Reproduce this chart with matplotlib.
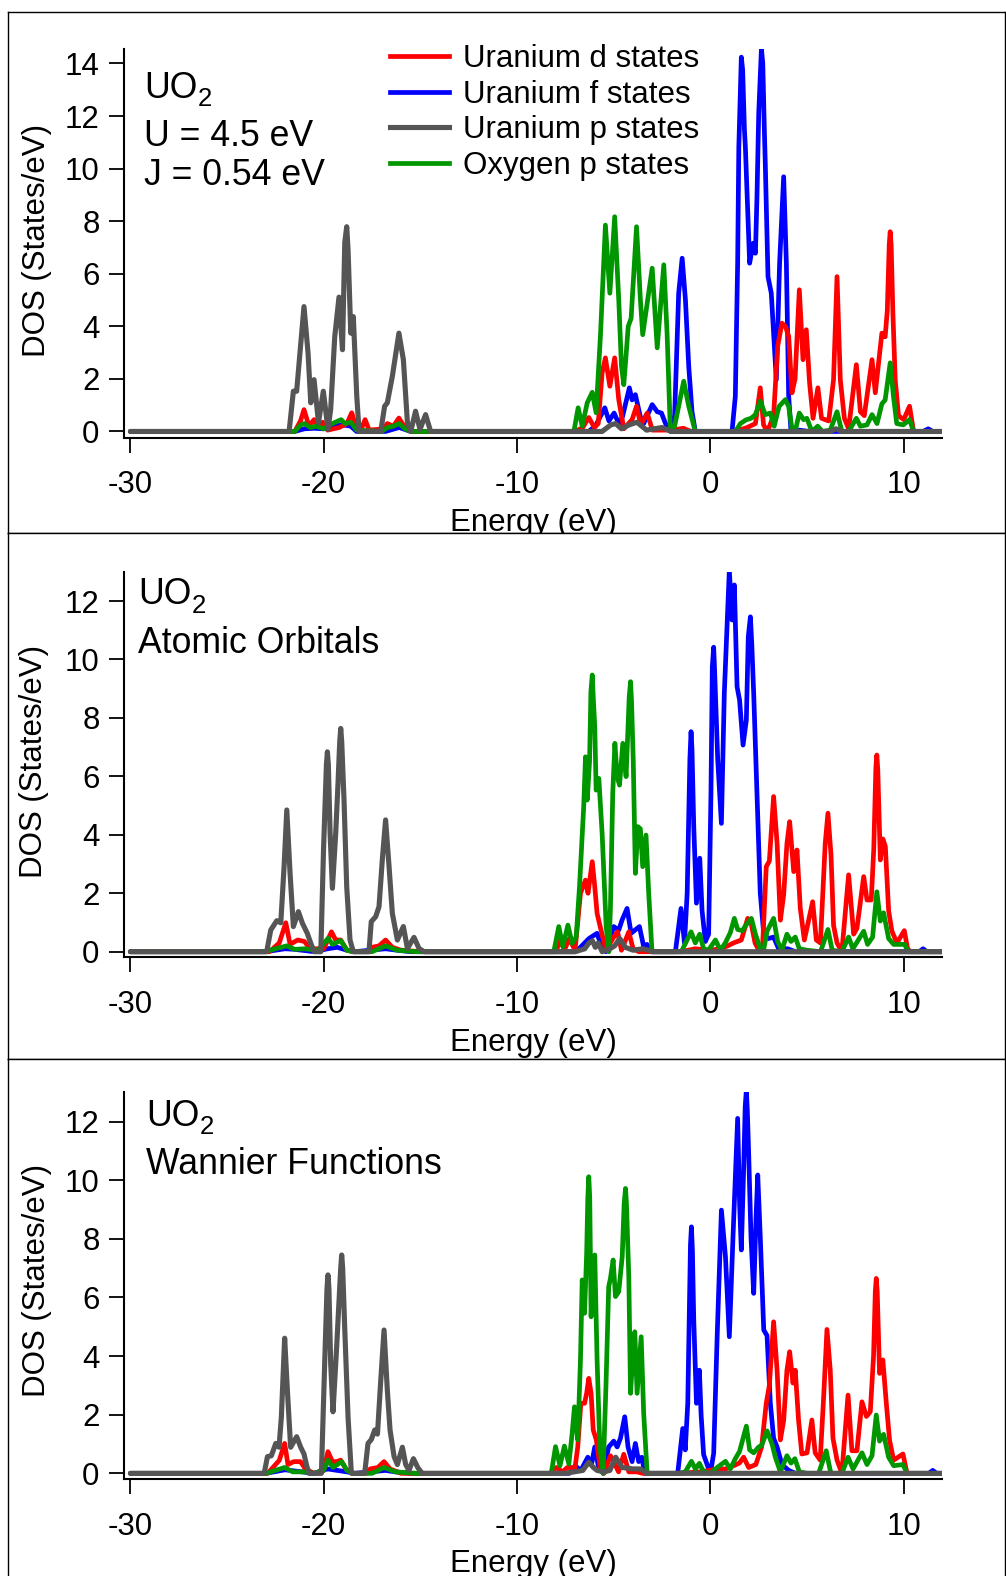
import matplotlib
matplotlib.use('Agg')
import matplotlib.pyplot as plt
from matplotlib.lines import Line2D

plt.rcParams['font.family'] = ['Liberation Sans', 'DejaVu Sans']
plt.rcParams['mathtext.default'] = 'regular'
plt.rcParams['axes.unicode_minus'] = False

W, H, DPI = 1006, 1576, 100

# ---------------- data: (energy eV, DOS states/eV) ----------------
# Panel 1: U = 4.5 eV, J = 0.54 eV
P1_Ud = [(-30, 0), (-21.5, 0), (-21.2, 0.4), (-21.02, 0.83), (-20.76, 0.2), (-20.5, 0.45), (-20.3, 0.2), (-20.05, 0.35),
         (-19.8, 0.05), (-19.2, 0.15), (-18.8, 0.3), (-18.55, 0.71), (-18.3, 0.1), (-18.05, 0.1), (-17.86, 0.45),
         (-17.65, 0.05), (-16.9, 0.1), (-16.71, 0.3), (-16.4, 0.2), (-16.11, 0.51), (-15.8, 0.15), (-15.5, 0),
         (-7.0, 0), (-6.6, 0.15), (-6.29, 0.53), (-6.0, 0.15), (-5.8, 0.3), (-5.6, 2.23), (-5.43, 2.8), (-5.2, 1.72),
         (-4.95, 2.8), (-4.74, 1.21), (-4.48, 0.1), (-4.05, 0.45), (-3.82, 0.96), (-3.6, 0.25), (-3.27, 0.7),
         (-3.0, 0.05), (-2.0, 0.05), (-1.4, 0.12), (-1.0, 0),
         (1.29, 0), (1.9, 0.15), (2.33, 0.3), (2.58, 1.66), (2.75, 0.25), (2.95, 0), (3.27, 0.6), (3.48, 3.24),
         (3.7, 4.12), (3.88, 4.0), (4.05, 3.62), (4.22, 1.47), (4.38, 2.0), (4.6, 5.39), (4.79, 2.73), (4.96, 3.87),
         (5.13, 1.85), (5.31, 0.5), (5.56, 1.66), (5.75, 0.5), (6.12, 0.4), (6.37, 1.97), (6.55, 5.89), (6.72, 1.97),
         (6.93, 0.5), (7.15, 0.1), (7.55, 2.54), (7.76, 0.75), (7.96, 0.6), (8.36, 2.73), (8.53, 1.47), (8.87, 3.74),
         (9.04, 3.6), (9.15, 4.6), (9.25, 7.1), (9.3, 7.6), (9.35, 7.1), (9.44, 4.5), (9.56, 1.97), (9.73, 0.6),
         (10.0, 0.45), (10.3, 0.96), (10.51, 0), (12, 0)]
P1_Uf = [(-30, 0), (-21.5, 0), (-21.0, 0.1), (-20.5, 0.12), (-20.0, 0.1), (-19.5, 0.2), (-19.0, 0.25), (-18.6, 0.2),
         (-18.3, 0), (-16.8, 0), (-16.1, 0.15), (-15.5, 0),
         (-6.3, 0), (-5.95, 0.2), (-5.46, 0.9), (-5.25, 0.4), (-4.98, 0.7), (-4.74, 0.3), (-4.55, 0.55), (-4.19, 1.66),
         (-4.05, 1.2), (-3.88, 1.4), (-3.62, 0.55), (-3.45, 0.3), (-3.01, 1.02), (-2.75, 0.75), (-2.53, 0.7),
         (-2.24, 0.15), (-2.07, 0), (-1.85, 0.6), (-1.64, 5.26), (-1.46, 6.59), (-1.29, 5.0), (-1.12, 2.48),
         (-0.95, 0.75), (-0.78, 0),
         (1.12, 0), (1.29, 1.34), (1.41, 6.4), (1.47, 10.8), (1.6, 14.24), (1.67, 13.75), (1.76, 11.5),
         (1.81, 10.82), (2.03, 6.4), (2.21, 7.16), (2.33, 6.78), (2.41, 8.93), (2.5, 12.1), (2.64, 14.56),
         (2.71, 14.0), (2.79, 11.5), (2.84, 10.19), (2.98, 5.89), (3.15, 5.26), (3.41, 1.97), (3.58, 6.4),
         (3.79, 9.69), (3.93, 6.4), (4.05, 1.34), (4.17, 0), (4.6, 0.05), (5.1, 0), (11.0, 0), (11.27, 0.1),
         (11.5, 0), (12, 0)]
P1_Up = [(-30, 0), (-21.79, 0), (-21.57, 1.53), (-21.4, 1.53), (-21.02, 4.75), (-20.81, 2.98), (-20.67, 1.09),
         (-20.5, 1.97), (-20.27, 0.33), (-20.02, 1.53), (-19.78, 0.08), (-19.64, 0.84), (-19.43, 3.6), (-19.21, 5.11),
         (-19.03, 3.11), (-18.91, 7.2), (-18.81, 7.79), (-18.74, 6.9), (-18.6, 3.74), (-18.47, 4.37), (-18.29, 1.34),
         (-18.17, 0), (-17.05, 0),
         (-16.85, 0.96), (-16.71, 1.09), (-16.45, 2.1), (-16.11, 3.74), (-15.88, 2.73), (-15.67, 0.33), (-15.5, 0),
         (-15.25, 0.77), (-15.02, 0.08), (-14.73, 0.64), (-14.47, 0),
         (-5.6, 0), (-5.15, 0.25), (-4.9, 0.3), (-4.6, 0.1), (-4.2, 0.25), (-3.8, 0.35), (-3.3, 0.05), (-2.5, 0.15),
         (-2.0, 0), (6.2, 0), (6.5, 0.1), (6.8, 0), (12, 0)]
P1_Op = [(-30, 0), (-21.5, 0), (-21.2, 0.25), (-21.0, 0.3), (-20.7, 0.15), (-20.4, 0.2), (-20.0, 0.1), (-19.7, 0.25),
         (-19.4, 0.35), (-19.1, 0.45), (-18.9, 0.3), (-18.6, 0.35), (-18.3, 0.05), (-17.0, 0), (-16.7, 0.15),
         (-16.4, 0.2), (-16.1, 0.3), (-15.8, 0.1), (-15.5, 0),
         (-7.06, 0), (-6.84, 0.9), (-6.63, 0.2), (-6.37, 1.09), (-6.11, 1.49), (-5.91, 0.71), (-5.68, 3.74),
         (-5.43, 7.85), (-5.2, 5.26), (-4.95, 8.17), (-4.74, 5.01), (-4.6, 2.48), (-4.48, 1.78), (-4.39, 2.61),
         (-4.25, 4.0), (-4.1, 4.3), (-3.82, 7.79), (-3.62, 5.01), (-3.5, 3.68), (-3.01, 6.21), (-2.75, 3.18),
         (-2.41, 6.34), (-2.24, 3.74), (-2.07, 0), (-1.85, 0.2), (-1.38, 1.91), (-1.12, 0.96), (-0.78, 0),
         (1.3, 0), (1.55, 0.3), (1.84, 0.44), (2.1, 0.5), (2.33, 0.64), (2.58, 1.15), (2.84, 0.64), (3.1, 0.7),
         (3.3, 0.2), (3.55, 0.95), (3.88, 1.21), (4.05, 0.95), (4.22, 0.1), (4.4, 0.05), (4.6, 0.7), (4.82, 0.45),
         (4.99, 0.5), (5.25, 0), (5.55, 0.2), (5.8, 0), (6.2, 0.05), (6.55, 0.75), (6.8, 0), (7.15, 0), (7.55, 0.5),
         (7.76, 0.2), (8.1, 0.25), (8.36, 0.64), (8.62, 0.3), (8.87, 1.05), (9.04, 1.2), (9.3, 2.61), (9.47, 1.34),
         (9.64, 0.3), (9.98, 0.25), (10.3, 0.45), (10.51, 0), (12, 0)]

# Panel 2: atomic orbitals
P2_Ud = [(-30, 0), (-22.8, 0), (-22.3, 0.3), (-21.96, 0.99), (-21.74, 0.25), (-21.35, 0.4), (-21.0, 0.35),
         (-20.7, 0.1), (-20.0, 0.1), (-19.6, 0.68), (-19.38, 0.4), (-19.12, 0.4), (-18.8, 0.05), (-18.47, 0),
         (-17.6, 0), (-17.5, 0.15), (-17.14, 0.2), (-16.8, 0.4), (-16.45, 0.15), (-16.0, 0.05), (-15.0, 0),
         (-8.0, 0), (-7.75, 0.4), (-7.55, 0.05), (-7.3, 0.45), (-7.0, 0.05), (-6.72, 2.0), (-6.46, 2.45),
         (-6.33, 2.0), (-6.11, 3.08), (-5.98, 2.22), (-5.86, 1.31), (-5.7, 0.86), (-5.4, 0.05), (-5.0, 0.5),
         (-4.8, 0.68), (-4.6, 0.05), (-4.22, 0.68), (-4.0, 0.1), (-3.7, 0),
         (-1.5, 0), (-0.8, 0.1), (0.0, 0.05), (0.5, 0.1), (0.9, 0.2), (1.2, 0.3), (1.6, 0.4), (1.93, 1.14),
         (2.1, 1.0), (2.31, 0.3), (2.55, 0), (2.7, 0.2), (2.89, 2.91), (3.05, 3.1), (3.27, 5.31), (3.45, 3.71),
         (3.62, 1.08), (3.79, 1.94), (3.96, 3.7), (4.1, 4.45), (4.31, 2.74), (4.48, 3.48), (4.65, 1.48),
         (4.86, 0.4), (5.29, 1.71), (5.48, 0.4), (5.69, 0.3), (5.94, 3.7), (6.08, 4.74), (6.24, 3.3), (6.37, 0.9),
         (6.55, 0.3), (6.8, 0), (7.15, 2.63), (7.41, 0.6), (7.58, 0.8), (7.93, 2.57), (8.1, 1.77), (8.32, 1.77),
         (8.45, 3.5), (8.56, 6.3), (8.61, 6.73), (8.66, 6.2), (8.79, 3.14), (8.92, 3.86), (9.05, 3.6), (9.22, 1.4),
         (9.39, 0.7), (9.65, 0.3), (10.03, 0.72), (10.2, 0.1), (10.35, 0), (12, 0)]
P2_Uf = [(-30, 0), (-23.0, 0), (-22.0, 0.1), (-21.5, 0.08), (-20.5, 0), (-19.8, 0.1), (-19.3, 0.15), (-18.8, 0.05),
         (-18.4, 0), (-16.8, 0.1), (-16.2, 0.05), (-15.5, 0),
         (-7.0, 0), (-6.8, 0.1), (-6.28, 0.45), (-5.86, 0.63), (-5.6, 0.1), (-5.4, 0), (-5.0, 0.86), (-4.74, 0.74),
         (-4.57, 1.08), (-4.31, 1.48), (-4.1, 0.63), (-3.88, 0.75), (-3.67, 0.86), (-3.45, 0.17), (-3.28, 0.25),
         (-3.1, 0),
         (-1.81, 0), (-1.52, 1.48), (-1.34, 0.3), (-1.2, 2.0), (-1.06, 6.6), (-1.0, 7.53), (-0.95, 6.9),
         (-0.86, 4.28), (-0.72, 1.66), (-0.55, 3.2), (-0.43, 1.4), (-0.26, 0.35), (-0.09, 0.6), (0.03, 5.42),
         (0.1, 9.75), (0.17, 10.42), (0.22, 9.6), (0.38, 6.56), (0.57, 4.39), (0.72, 8.84), (0.98, 13.06),
         (1.12, 11.35), (1.24, 12.55), (1.38, 9.07), (1.51, 8.61), (1.69, 7.07), (1.86, 7.93), (1.96, 10.78),
         (2.07, 11.46), (2.14, 10.55), (2.24, 8.84), (2.41, 5.42), (2.58, 2.0), (2.76, 0.6),
         (3.0, 0.45), (3.27, 0.5), (3.53, 0.1), (4.0, 0.1), (4.4, 0), (10.8, 0), (11.0, 0.1), (11.2, 0), (12, 0)]
P2_Up = [(-30, 0), (-22.95, 0), (-22.74, 0.74), (-22.43, 1.06), (-22.22, 0.99), (-22.05, 2.91), (-21.91, 4.85),
         (-21.74, 2.68), (-21.57, 0.86), (-21.31, 1.37), (-21.1, 0.97), (-20.85, 0.63), (-20.67, 0.29), (-20.5, 0),
         (-20.15, 0), (-20.01, 3.48), (-19.86, 6.4), (-19.81, 6.84), (-19.76, 6.4), (-19.67, 4.05), (-19.55, 2.17),
         (-19.38, 4.05), (-19.26, 5.76), (-19.17, 7.2), (-19.12, 7.64), (-19.07, 7.2), (-18.95, 5.19),
         (-18.81, 2.22), (-18.64, 0.4), (-18.47, 0), (-17.66, 0), (-17.54, 1.03),
         (-17.31, 1.2), (-17.14, 1.54), (-16.97, 3.14), (-16.8, 4.51), (-16.62, 2.91), (-16.45, 1.31), (-16.19, 0.4),
         (-15.88, 0.86), (-15.67, 0.11), (-15.33, 0.49), (-15.07, 0.11), (-14.81, 0),
         (-7.0, 0), (-6.5, 0.1), (-6.28, 0.3), (-6.1, 0.37), (-5.95, 0.15), (-5.8, 0.3), (-5.6, 0), (-5.2, 0.1),
         (-4.95, 0.2), (-4.69, 0.45), (-4.4, 0.15), (-4.0, 0.05), (-3.5, 0.1), (-3.2, 0.05), (-3.0, 0), (12, 0)]
P2_Op = [(-30, 0), (-23.0, 0), (-22.5, 0.1), (-21.91, 0.2), (-21.5, 0.08), (-21.0, 0.1), (-20.3, 0.05),
         (-19.77, 0.46), (-19.55, 0.25), (-19.12, 0.38), (-18.8, 0.05), (-18.47, 0), (-17.5, 0), (-16.8, 0.2),
         (-16.2, 0.05), (-15.2, 0),
         (-8.1, 0), (-7.84, 0.86), (-7.63, 0.17), (-7.37, 0.91), (-7.15, 0.28), (-6.94, 0.51), (-6.77, 2.22),
         (-6.55, 5.0), (-6.46, 6.67), (-6.37, 5.19), (-6.25, 6.5), (-6.18, 8.9), (-6.11, 9.47), (-6.05, 8.6),
         (-5.98, 7.7), (-5.91, 5.53),
         (-5.77, 5.93), (-5.6, 4.05), (-5.39, 0.86), (-5.25, 0), (-5.17, 1.5), (-5.05, 5.42), (-4.94, 7.13),
         (-4.82, 5.99), (-4.7, 5.7), (-4.53, 7.13), (-4.36, 5.99), (-4.2, 8.7), (-4.13, 9.24), (-4.08, 8.6),
         (-3.99, 6.56), (-3.88, 2.68),
         (-3.75, 4.28), (-3.62, 4.2), (-3.5, 2.91), (-3.33, 3.99), (-3.19, 2.0), (-3.02, 0),
         (-1.5, 0), (-1.0, 0.68), (-0.78, 0.3), (-0.55, 0.6), (-0.35, 0.1), (-0.1, 0.05), (0.26, 0.4), (0.52, 0.05),
         (0.77, 0.3), (1.03, 0.65), (1.24, 1.14), (1.41, 0.76), (1.65, 0.72), (1.86, 0.93), (2.12, 1.14),
         (2.33, 0.6), (2.58, 0.1), (2.75, 0.05), (2.93, 0.7), (3.27, 1.14), (3.48, 0.35), (3.7, 0.05), (3.96, 0.6),
         (4.17, 0.35), (4.39, 0.5), (4.6, 0.1), (5.0, 0.05), (5.7, 0), (6.08, 0.76), (6.3, 0.05), (6.8, 0),
         (7.15, 0.5), (7.37, 0.1), (7.93, 0.7), (8.13, 0.25), (8.39, 0.5), (8.61, 2.05), (8.79, 1.05), (8.96, 1.33),
         (9.22, 0.45), (9.48, 0.25), (10.05, 0.25), (10.22, 0), (12, 0)]

# Panel 3: Wannier functions
P3_Ud = [(-30, 0), (-22.9, 0), (-22.3, 0.44), (-22.02, 1.02), (-21.85, 0.3), (-21.55, 0.4), (-21.2, 0.4),
         (-20.95, 0.15), (-20.5, 0), (-20.0, 0.1), (-19.78, 0.74), (-19.55, 0.4), (-19.33, 0.4), (-19.12, 0.45),
         (-18.85, 0.15), (-18.5, 0), (-17.8, 0), (-17.6, 0.15), (-17.2, 0.2), (-16.88, 0.4), (-16.57, 0.15),
         (-16.0, 0),
         (-8.3, 0), (-7.95, 0.2), (-7.65, 0.05), (-7.4, 0.2), (-7.0, 0.2), (-6.86, 0.9), (-6.7, 2.39), (-6.51, 2.39),
         (-6.4, 2.73), (-6.29, 3.24), (-6.17, 2.73), (-6.06, 1.48), (-5.9, 1.14), (-5.7, 0.2), (-5.5, 0),
         (-5.17, 0.6), (-5.0, 0.4), (-4.75, 0.05), (-4.48, 0.65), (-4.22, 0.05), (-3.8, 0.05), (-3.5, 0),
         (-1.7, 0), (-0.5, 0.05), (0.35, 0.15), (0.8, 0.15), (1.2, 0.26), (1.5, 0.35), (1.72, 0.55), (1.98, 0.2),
         (2.35, 0.3), (2.65, 0.9), (2.89, 2.39), (3.05, 3.0), (3.27, 5.17), (3.45, 3.52), (3.62, 1.14), (3.79, 1.8),
         (3.96, 3.52), (4.1, 4.15), (4.27, 3.08), (4.39, 3.52), (4.56, 1.82), (4.73, 0.66), (5.0, 0.7), (5.25, 1.82),
         (5.42, 0.7), (5.68, 0.45), (5.85, 2.5), (6.03, 4.91), (6.2, 3.52), (6.34, 1.2), (6.55, 0.45), (6.8, 0),
         (7.12, 2.67), (7.32, 0.77), (7.58, 0.77), (7.84, 2.44), (8.07, 1.94), (8.27, 2.1), (8.44, 4.0),
         (8.53, 6.2), (8.58, 6.65), (8.63, 6.2), (8.75, 3.41), (8.92, 3.87), (9.1, 2.39), (9.27, 1.12), (9.48, 0.45),
         (9.96, 0.66), (10.17, 0), (12, 0)]
P3_Uf = [(-30, 0), (-23.0, 0), (-22.0, 0.12), (-21.5, 0.08), (-20.5, 0), (-19.8, 0.15), (-19.3, 0.1),
         (-18.8, 0.05), (-18.4, 0), (-16.8, 0.1), (-16.3, 0.05), (-15.5, 0),
         (-7.3, 0), (-7.0, 0.26), (-6.7, 0.1), (-6.34, 0.55), (-6.15, 0.3), (-5.98, 0.9), (-5.8, 0.26), (-5.55, 0),
         (-5.26, 0.9), (-5.0, 1.1), (-4.82, 0.9), (-4.65, 1.2), (-4.43, 1.93), (-4.26, 0.9), (-4.05, 0.4),
         (-3.88, 1.02), (-3.71, 0.4), (-3.55, 0.55), (-3.39, 0),
         (-1.69, 0), (-1.43, 1.53), (-1.3, 0.8), (-1.17, 2.39), (-1.03, 7.8), (-0.98, 8.41), (-0.93, 7.6),
         (-0.86, 5.23), (-0.72, 2.39),
         (-0.57, 3.52), (-0.48, 2.0), (-0.35, 0.64), (-0.17, 0.3), (0.0, 0), (0.17, 0.68), (0.35, 4.66),
         (0.57, 8.98), (0.78, 7.39), (0.98, 4.66), (1.17, 8.07), (1.41, 12.11), (1.51, 9.21), (1.6, 7.62),
         (1.72, 10.35), (1.8, 12.5), (1.86, 13.08), (1.91, 12.4), (1.98, 10.92), (2.1, 8.07), (2.24, 6.14),
         (2.36, 8.7), (2.45, 10.18),
         (2.58, 8.07), (2.76, 4.89), (2.93, 4.7), (3.1, 2.4), (3.27, 1.2), (3.45, 0.9), (3.7, 0.3), (4.05, 0.1),
         (4.4, 0), (11.3, 0), (11.5, 0.1), (11.7, 0), (12, 0)]
P3_Up = [(-30, 0), (-23.08, 0), (-22.91, 0.57), (-22.71, 0.6), (-22.48, 1.02), (-22.31, 0.89), (-22.19, 1.93),
         (-22.02, 4.61), (-21.88, 2.84), (-21.71, 0.89), (-21.4, 1.25), (-21.19, 0.89), (-21.02, 0.66),
         (-20.88, 0.26), (-20.77, 0), (-20.12, 0), (-19.95, 3.75), (-19.83, 6.3), (-19.78, 6.77), (-19.73, 6.3),
         (-19.64, 3.75), (-19.52, 2.1), (-19.33, 4.32), (-19.12, 7.0), (-19.07, 7.45), (-19.02, 7.0),
         (-18.91, 4.89), (-18.74, 1.9), (-18.57, 0), (-17.88, 0), (-17.71, 1.02),
         (-17.54, 1.15), (-17.36, 1.48), (-17.22, 1.34), (-17.05, 3.16), (-16.88, 4.89), (-16.71, 2.84),
         (-16.57, 1.48), (-16.36, 0.57), (-16.19, 0.3), (-15.93, 0.89), (-15.76, 0.3), (-15.59, 0.1),
         (-15.36, 0.5), (-15.12, 0.18), (-14.9, 0),
         (-7.5, 0), (-6.6, 0.1), (-6.29, 0.38), (-6.05, 0.2), (-5.86, 0.1), (-5.5, 0.05), (-5.2, 0.1), (-4.9, 0.55),
         (-4.56, 0.2), (-4.0, 0.15), (-3.6, 0.15), (-3.3, 0), (12, 0)]
P3_Op = [(-30, 0), (-23.0, 0), (-22.5, 0.1), (-22.02, 0.2), (-21.6, 0.05), (-21.0, 0.05), (-20.5, 0), (-20.0, 0.1),
         (-19.78, 0.45), (-19.52, 0.2), (-19.07, 0.4), (-18.8, 0.1), (-18.5, 0), (-17.5, 0), (-16.88, 0.2),
         (-16.3, 0.05), (-15.2, 0),
         (-8.23, 0), (-8.01, 0.91), (-7.78, 0.26), (-7.55, 0.93), (-7.32, 0.32), (-7.15, 1.36), (-7.03, 2.27),
         (-6.86, 1.14), (-6.72, 3.87), (-6.63, 6.6), (-6.51, 5.46), (-6.4, 7.5), (-6.34, 9.4), (-6.29, 10.12),
         (-6.24, 9.4), (-6.17, 5.34),
         (-6.06, 7.28), (-5.98, 7.45), (-5.86, 3.87), (-5.72, 0.91), (-5.55, 0), (-5.4, 3.0), (-5.26, 6.37),
         (-5.17, 6.65), (-5.03, 7.28), (-4.91, 6.03), (-4.74, 6.2), (-4.56, 7.4), (-4.46, 9.2), (-4.39, 9.72),
         (-4.34, 9.2), (-4.22, 6.71),
         (-4.13, 2.73), (-4.05, 3.6), (-3.91, 4.83), (-3.79, 2.73), (-3.58, 4.66), (-3.45, 2.05), (-3.27, 0),
         (-1.6, 0), (-1.3, 0.05), (-0.98, 0.41), (-0.78, 0.15), (-0.57, 0.34), (-0.35, 0.05), (0.0, 0), (0.35, 0.2),
         (0.78, 0.41), (1.03, 0.15), (1.29, 0.5), (1.51, 0.75), (1.86, 1.61), (2.03, 0.8), (2.24, 0.7), (2.5, 0.9),
         (2.65, 0.95), (2.93, 1.45), (3.19, 1.0), (3.36, 0.55), (3.62, 0.05), (3.96, 0.6), (4.17, 0.35),
         (4.37, 0.5), (4.6, 0.05), (5.0, 0), (5.6, 0), (5.99, 0.77), (6.23, 0), (6.8, 0), (7.12, 0.55),
         (7.38, 0.15), (7.84, 0.7), (8.1, 0.3), (8.36, 0.6), (8.58, 1.99), (8.75, 1.1), (8.96, 1.33), (9.22, 0.55),
         (9.48, 0.26), (9.96, 0.3), (10.17, 0), (12, 0)]

SERIES_LABELS = ["Uranium d states", "Uranium f states", "Uranium p states", "Oxygen p states"]
COLORS = {"d": "#ff0000", "f": "#0000ff", "p": "#555555", "O": "#009600"}
X_TICKS = [-30, -20, -10, 0, 10]
PANEL_TEXT = [["U = 4.5 eV", "J = 0.54 eV"], ["Atomic Orbitals"], ["Wannier Functions"]]

# ---------------- figure ----------------
fig = plt.figure(figsize=(W / DPI, H / DPI), dpi=DPI)


def fx(px):
    return px / W


def fy(py):
    return 1 - py / H


def add_frame(y0, y1, z):
    fa = fig.add_axes([fx(8), fy(y1), fx(1004.5) - fx(8), fy(y0) - fy(y1)])
    fa.set_zorder(z)
    fa.set_xticks([])
    fa.set_yticks([])
    fa.set_facecolor('white')
    for s in fa.spines.values():
        s.set_linewidth(1.0)
        s.set_color('black')
    return fa


def add_panel(top, bottom, ylim, yticks, z):
    ax = fig.add_axes([fx(124), fy(bottom), fx(942) - fx(124), fy(top) - fy(bottom)])
    ax.set_zorder(z)
    ax.patch.set_alpha(0)
    ax.set_xlim(-30.33, 11.98)
    ax.set_ylim(*ylim)
    ax.set_xticks(X_TICKS)
    ax.set_yticks(yticks)
    for s in ('top', 'right'):
        ax.spines[s].set_visible(False)
    for s in ('left', 'bottom'):
        ax.spines[s].set_linewidth(1.5)
    ax.tick_params(axis='both', direction='out', length=10.8, width=1.3, labelsize=22.5, colors='black')
    ax.tick_params(axis='x', pad=12.5)
    ax.tick_params(axis='y', pad=6.8)
    return ax


LW = 3.4
LW_P = 3.7


def draw(ax, d, f, p, o):
    for data, c, lw in ((f, COLORS['f'], LW), (d, COLORS['d'], LW), (o, COLORS['O'], LW), (p, COLORS['p'], LW_P)):
        e = [q[0] for q in data]
        v = [q[1] for q in data]
        ax.plot(e, v, color=c, lw=lw, solid_joinstyle='round', solid_capstyle='round', clip_on=True)


add_frame(12, 533, 0)
ax1 = add_panel(49, 437.5, (-0.23, 14.55), range(0, 15, 2), 1)
add_frame(533, 1059, 2)
ax2 = add_panel(571.8, 957.25, (-0.19, 13.0), range(0, 13, 2), 3)
add_frame(1059, 1620, 4)
ax3 = add_panel(1092.3, 1479.2, (-0.2, 13.0), range(0, 13, 2), 5)

draw(ax1, P1_Ud, P1_Uf, P1_Up, P1_Op)
draw(ax2, P2_Ud, P2_Uf, P2_Up, P2_Op)
draw(ax3, P3_Ud, P3_Uf, P3_Up, P3_Op)

# axis labels
for ax, xlab_base, ylab_x, ylab_y in ((ax1, 531, 37, 240), (ax2, 1050.5, 34, 761), (ax3, 1572.0, 37, 1280)):
    ax.text(fx(533), fy(xlab_base), "Energy (eV)", transform=fig.transFigure, ha='center', va='baseline',
            fontsize=22.5, clip_on=False)
    ax.text(fx(ylab_x), fy(ylab_y), "DOS (States/eV)", transform=fig.transFigure, ha='center', va='center',
            rotation=90, fontsize=22.5, clip_on=False)

# panel annotations: "UO" with a lowered subscript "2", then the description lines
uo_pos = [(144, 97.5), (138, 604), (146, 1125.5)]
ann_pos = [[(144, 146.5), (144, 185)], [(138, 653)], [(146, 1174)]]
for ax, (ux, uy), texts, poss in zip((ax1, ax2, ax3), uo_pos, PANEL_TEXT, ann_pos):
    ax.text(fx(ux), fy(uy), "UO", transform=fig.transFigure, ha='left', va='baseline', fontsize=25.7,
            clip_on=False)
    ax.text(fx(ux + 53.5), fy(uy + 9), "2", transform=fig.transFigure, ha='left', va='baseline', fontsize=18.5,
            clip_on=False)
    for t, (px, py) in zip(texts, poss):
        ax.text(fx(px), fy(py), t, transform=fig.transFigure, ha='left', va='baseline', fontsize=25.7,
                clip_on=False)

# legend
handles = [Line2D([], [], color=COLORS['d'], lw=LW),
           Line2D([], [], color=COLORS['f'], lw=LW),
           Line2D([], [], color=COLORS['p'], lw=LW_P),
           Line2D([], [], color=COLORS['O'], lw=LW)]
ax1.legend(handles, SERIES_LABELS, loc='upper left', bbox_to_anchor=(fx(390), fy(44)),
           bbox_transform=fig.transFigure, frameon=False, fontsize=22.5, handlelength=1.89,
           handletextpad=0.45, labelspacing=0.18, borderpad=0, borderaxespad=0)

fig.savefig('out.png', dpi=DPI)
